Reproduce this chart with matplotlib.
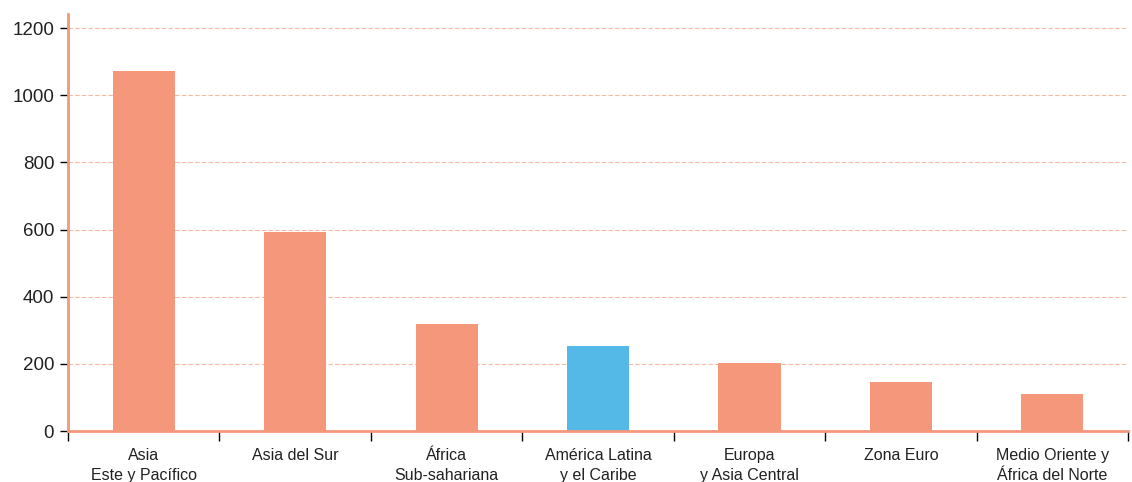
import numpy as np
import matplotlib.pyplot as plt
from matplotlib import font_manager

regions = ['Asia\nEste y Pacífico', 'Asia del Sur', 'África\nSub-sahariana',
           'América Latina\ny el Caribe', 'Europa\ny Asia Central', 'Zona Euro',
           'Medio Oriente y\nÁfrica del Norte']
values = [1072, 593, 319, 253, 203, 147, 110]
highlight = 'América Latina\ny el Caribe'

salmon = '#F4977A'
blue = '#55B9E8'

names = {f.name for f in font_manager.fontManager.ttflist}
narrow = 'Liberation Sans Narrow' if 'Liberation Sans Narrow' in names else 'Liberation Sans'

fig = plt.figure(figsize=(11.32, 4.82), dpi=100)
ax = fig.add_axes([0.0601, 0.1058, 0.9364, 0.8651])

x = np.arange(len(regions))
colors = [blue if r == highlight else salmon for r in regions]
ax.bar(x, values, width=0.41, color=colors, zorder=2)

ax.set_xlim(-0.5, len(regions) - 0.5)
ax.set_ylim(0, 1242)
ax.set_yticks(range(0, 1201, 200))
ax.yaxis.grid(True, linestyle=(0, (4, 2)), color='#F7B9A6', linewidth=0.8, zorder=0)

for s in ['top', 'right']:
    ax.spines[s].set_visible(False)
for s in ['left', 'bottom']:
    ax.spines[s].set_color(salmon)
    ax.spines[s].set_linewidth(2)

ax.set_xticks(x)
ax.set_xticklabels(regions, fontsize=11.5, family=narrow, color='#222222', linespacing=1.45)
ax.tick_params(axis='x', which='major', length=0, pad=12)
ax.set_xticks(np.arange(-0.5, len(regions)), minor=True)
ax.tick_params(axis='x', which='minor', length=7, width=1, color='black')
ax.tick_params(axis='y', length=6, width=1, color='black', labelsize=13.5, pad=4)
for t in ax.get_yticklabels():
    t.set_family('Liberation Sans')
    t.set_color('#222222')

fig.savefig('out.png', dpi=100)
